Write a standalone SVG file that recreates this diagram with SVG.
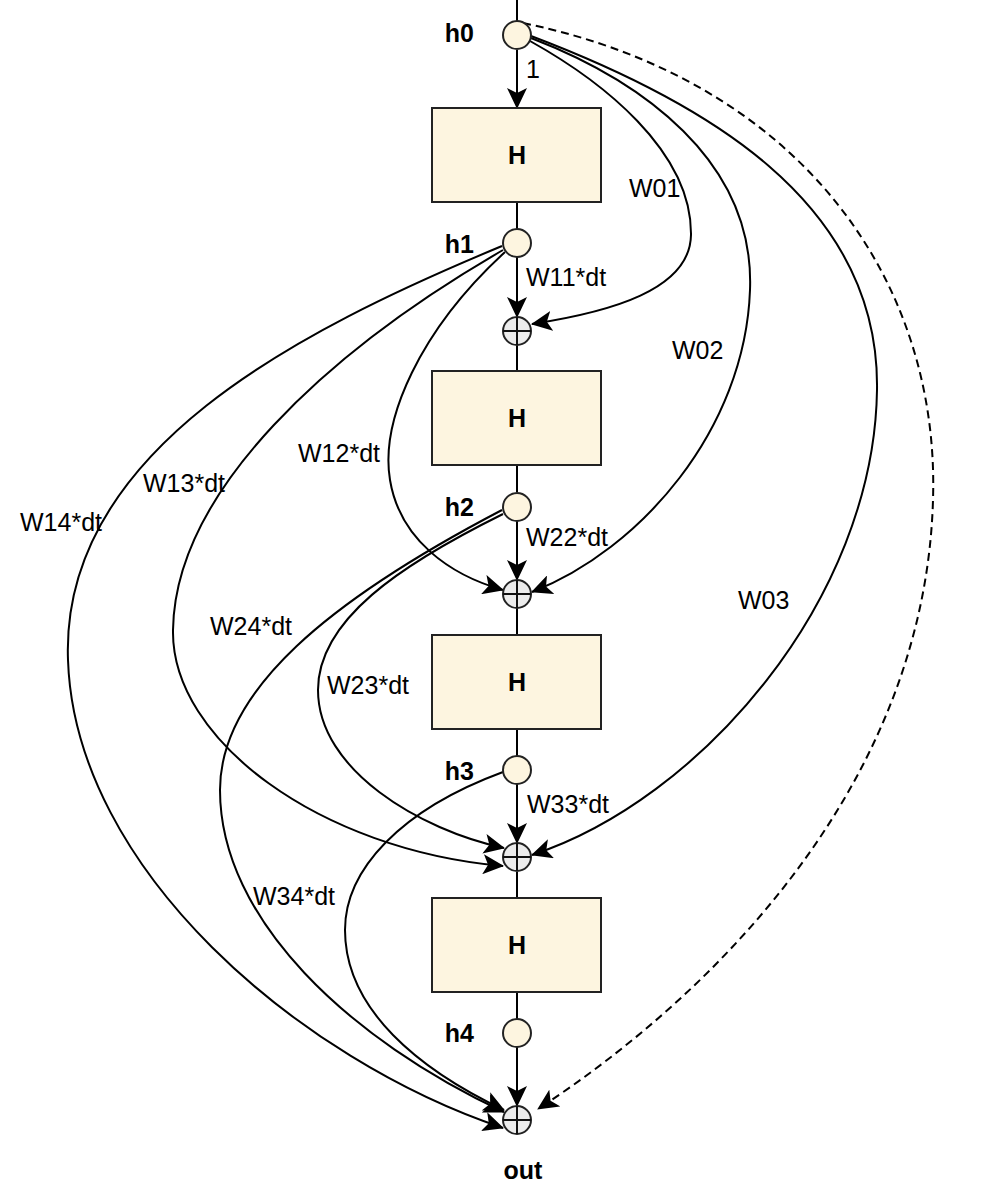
<svg xmlns="http://www.w3.org/2000/svg" width="1000" height="1192" viewBox="0 0 1000 1192">
<defs>
<marker id="arr" markerUnits="userSpaceOnUse" markerWidth="22" markerHeight="20" refX="20" refY="10" orient="auto">
<path d="M0,0 L21,10 L0,20 L5,10 z" fill="#000"/>
</marker>
<style>
.box{fill:#fdf5e0;stroke:#222;stroke-width:2}
.hc{fill:#fdf5e0;stroke:#222;stroke-width:2}
.pc{fill:#ececec;stroke:#222;stroke-width:2}
.pl{stroke:#111;stroke-width:2}
.e{fill:none;stroke:#000;stroke-width:2}
.ea{fill:none;stroke:#000;stroke-width:2;marker-end:url(#arr)}
.d{fill:none;stroke:#000;stroke-width:2;stroke-dasharray:8 5;marker-end:url(#arr)}
.t{font-family:"Liberation Sans",Arial,sans-serif;font-size:25px;fill:#000}
.b{font-family:"Liberation Sans",Arial,sans-serif;font-size:25px;font-weight:bold;fill:#000}
</style>
</defs>
<rect width="1000" height="1192" fill="#fff"/>
<g id="connectors">
<line class="e" x1="517" y1="0" x2="517" y2="21"/>
<line class="ea" x1="517" y1="50" x2="517" y2="108"/>
<line class="e" x1="517" y1="202" x2="517" y2="229"/>
<line class="ea" x1="517" y1="257" x2="517" y2="317"/>
<line class="e" x1="517" y1="345" x2="517" y2="371"/>
<line class="e" x1="517" y1="465" x2="517" y2="492"/>
<line class="ea" x1="517" y1="521" x2="517" y2="580"/>
<line class="e" x1="517" y1="608" x2="517" y2="635"/>
<line class="e" x1="517" y1="729" x2="517" y2="756"/>
<line class="ea" x1="517" y1="784" x2="517" y2="843"/>
<line class="e" x1="517" y1="872" x2="517" y2="898"/>
<line class="e" x1="517" y1="992" x2="517" y2="1019"/>
<line class="ea" x1="517" y1="1047" x2="517" y2="1106"/>
<path id="W01" class="ea" d="M530 41 C600 80,692 150,691 235 C690 290,610 312,532 324"/>
<path id="W02" class="ea" d="M531 38 C640 80,755 160,750 290 C745 430,640 550,532 592"/>
<path id="W03" class="ea" d="M531 36 C700 100,880 200,877 390 C874 600,700 800,532 855"/>
<path id="skip" class="d" d="M523 23 C800 80,940 280,933 500 C925 780,720 990,538 1109"/>
<path id="W12" class="ea" d="M505 252 C420 330,380 420,390 480 C400 540,450 575,503 590"/>
<path id="W13" class="ea" d="M503 250 C330 350,175 490,173 630 C171 740,320 850,503 866"/>
<path id="W14" class="ea" d="M502 246 C300 330,60 450,68 660 C75 870,300 1060,503 1128"/>
<path id="W23" class="ea" d="M503 514 C400 565,318 620,318 690 C318 770,420 830,504 848"/>
<path id="W24" class="ea" d="M502 510 C330 600,220 690,220 790 C220 920,350 1040,504 1112"/>
<path id="W34" class="ea" d="M503 772 C400 810,345 870,345 930 C345 1010,420 1070,504 1110"/>
</g>
<g id="h0"><circle class="hc" cx="517" cy="35" r="14"/><text class="b" x="474" y="42" text-anchor="end">h0</text></g>
<g id="box1"><rect class="box" x="432" y="108" width="169" height="94"/><text class="b" x="517" y="164" text-anchor="middle">H</text></g>
<g id="h1"><circle class="hc" cx="517" cy="243" r="14"/><text class="b" x="474" y="253" text-anchor="end">h1</text></g>
<g id="plus1"><circle class="pc" cx="517" cy="331" r="14"/><line class="pl" x1="503" y1="331" x2="531" y2="331"/><line class="pl" x1="517" y1="317" x2="517" y2="345"/></g>
<g id="box2"><rect class="box" x="432" y="371" width="169" height="94"/><text class="b" x="517" y="427" text-anchor="middle">H</text></g>
<g id="h2"><circle class="hc" cx="517" cy="507" r="14"/><text class="b" x="474" y="516" text-anchor="end">h2</text></g>
<g id="plus2"><circle class="pc" cx="517" cy="594" r="14"/><line class="pl" x1="503" y1="594" x2="531" y2="594"/><line class="pl" x1="517" y1="580" x2="517" y2="608"/></g>
<g id="box3"><rect class="box" x="432" y="635" width="169" height="94"/><text class="b" x="517" y="691" text-anchor="middle">H</text></g>
<g id="h3"><circle class="hc" cx="517" cy="770" r="14"/><text class="b" x="474" y="780" text-anchor="end">h3</text></g>
<g id="plus3"><circle class="pc" cx="517" cy="857" r="14"/><line class="pl" x1="503" y1="857" x2="531" y2="857"/><line class="pl" x1="517" y1="843" x2="517" y2="871"/></g>
<g id="box4"><rect class="box" x="432" y="898" width="169" height="94"/><text class="b" x="517" y="954" text-anchor="middle">H</text></g>
<g id="h4"><circle class="hc" cx="517" cy="1033" r="14"/><text class="b" x="474" y="1042" text-anchor="end">h4</text></g>
<g id="out"><circle class="pc" cx="517" cy="1120" r="14"/><line class="pl" x1="503" y1="1120" x2="531" y2="1120"/><line class="pl" x1="517" y1="1106" x2="517" y2="1134"/><text class="b" x="523" y="1179" text-anchor="middle">out</text></g>
<g id="labels">
<text class="t" x="526" y="78">1</text>
<text class="t" x="629" y="197">W01</text>
<text class="t" x="526" y="286">W11*dt</text>
<text class="t" x="672" y="359">W02</text>
<text class="t" x="298" y="462">W12*dt</text>
<text class="t" x="143" y="492">W13*dt</text>
<text class="t" x="20" y="531">W14*dt</text>
<text class="t" x="526" y="546">W22*dt</text>
<text class="t" x="738" y="609">W03</text>
<text class="t" x="210" y="635">W24*dt</text>
<text class="t" x="327" y="694">W23*dt</text>
<text class="t" x="527" y="813">W33*dt</text>
<text class="t" x="253" y="905">W34*dt</text>
</g>
</svg>
